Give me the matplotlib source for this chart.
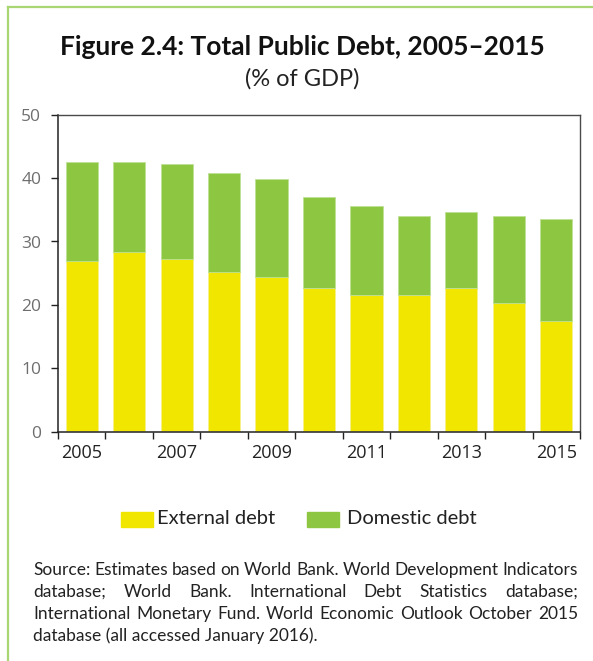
import matplotlib
matplotlib.use("Agg")
import matplotlib.pyplot as plt
import numpy as np
from matplotlib.patches import Rectangle
from matplotlib.lines import Line2D

years = [2005, 2006, 2007, 2008, 2009, 2010, 2011, 2012, 2013, 2014, 2015]
external_debt = [26.9, 28.4, 27.2, 25.2, 24.4, 22.6, 21.5, 21.5, 22.6, 20.3, 17.5]
total_debt = [42.5, 42.5, 42.2, 40.8, 39.9, 37.0, 35.6, 34.1, 34.7, 34.1, 33.5]
domestic_debt = [round(t - e, 1) for t, e in zip(total_debt, external_debt)]
year_labels = ["2005", "2007", "2009", "2011", "2013", "2015"]

YELLOW = "#f0e600"
GREEN = "#8dc641"
FRAME = "#a9d672"
TEXT_FONT = ["Lato", "DejaVu Sans"]
TICK_FONT = ["Open Sans", "DejaVu Sans"]

W, H = 593, 661
fig = plt.figure(figsize=(W / 100, H / 100), dpi=100)

# Page frame (left and top rules)
fig.add_artist(Line2D([8 / W, 8 / W], [0, 1 - 7 / H], transform=fig.transFigure,
                      color=FRAME, lw=1.6))
fig.add_artist(Line2D([8 / W, 1], [1 - 7 / H, 1 - 7 / H], transform=fig.transFigure,
                      color=FRAME, lw=1.6))

# Titles
fig.text(0.51, 1 - 47 / H, "Figure 2.4: Total Public Debt, 2005\u20132015",
         ha="center", va="center", fontsize=19, fontweight="bold",
         family=TEXT_FONT, color="#111111")
fig.text(0.51, 1 - 79 / H, "(% of GDP)", ha="center", va="center",
         fontsize=17, fontweight="normal", family=TEXT_FONT, color="#222222")

ax = fig.add_axes([58 / W, 1 - 431.7 / H, 522 / W, 317 / H])
x = np.arange(len(years))
bw = 0.68
ax.bar(x, external_debt, width=bw, color=YELLOW, edgecolor="#f6f08a", linewidth=0.6,
       bottom=0.12, zorder=2)
ax.bar(x, domestic_debt, width=bw, bottom=external_debt, color=GREEN,
       edgecolor="#bfe196", linewidth=0.6, zorder=2)

ax.set_xlim(-0.5, len(years) - 0.5)
ax.set_ylim(0, 50)
ax.set_yticks(range(0, 51, 10))
ax.set_xticks(np.arange(-0.5, len(years), 1.0))
ax.set_xticklabels([])
ax.set_xticks(x[::2], minor=True)
ax.set_xticklabels(year_labels, minor=True)
ax.tick_params(axis="x", which="major", length=5, width=1, color="#222222", direction="out")
ax.tick_params(axis="x", which="minor", length=0, pad=9, labelsize=13,
               labelcolor="#222222")
ax.tick_params(axis="y", length=5, width=1, color="#222222", pad=7, labelsize=12.5,
               labelcolor="#6e6e6e")
for lab in ax.get_xticklabels(minor=True) + ax.get_yticklabels():
    lab.set_family(TICK_FONT)

for side in ("left", "bottom"):
    ax.spines[side].set_color("#222222")
    ax.spines[side].set_linewidth(1.1)
for side in ("top", "right"):
    ax.spines[side].set_color("#4a4a4a")
    ax.spines[side].set_linewidth(1.0)

# Legend
ly = 1 - 519 / H
for px, col, label, tx in [(121, YELLOW, "External debt", 157), (307, GREEN, "Domestic debt", 347)]:
    fig.add_artist(Rectangle((px / W, ly - 7.5 / H), 32 / W, 15 / H,
                             transform=fig.transFigure, color=col))
    fig.text(tx / W, ly, label, ha="left", va="center", fontsize=14.5,
             family=TEXT_FONT, color="#222222")

# Source note, justified across the text block
source_lines = [
    "Source: Estimates based on World Bank. World Development Indicators",
    "database; World Bank. International Debt Statistics database;",
    "International Monetary Fund. World Economic Outlook October 2015",
    "database (all accessed January 2016).",
]
left_px, right_px = 33, 578
line_y = [570, 592, 614, 636]
renderer = fig.canvas.get_renderer()
for i, (line, ypx) in enumerate(zip(source_lines, line_y)):
    words = line.split(" ")
    yf = 1 - ypx / H
    if i == len(source_lines) - 1:
        fig.text(left_px / W, yf, line, ha="left", va="center", fontsize=12.5,
                 family=TEXT_FONT, color="#222222")
        continue
    arts = [fig.text(0, yf, w, ha="left", va="center", fontsize=12.5,
                     family=TEXT_FONT, color="#222222") for w in words]
    widths = [a.get_window_extent(renderer).width for a in arts]
    gap = (right_px - left_px - sum(widths)) / (len(words) - 1)
    pos = left_px
    for a, wpx in zip(arts, widths):
        a.set_x(pos / W)
        pos += wpx + gap

fig.savefig("out.png", dpi=100)
